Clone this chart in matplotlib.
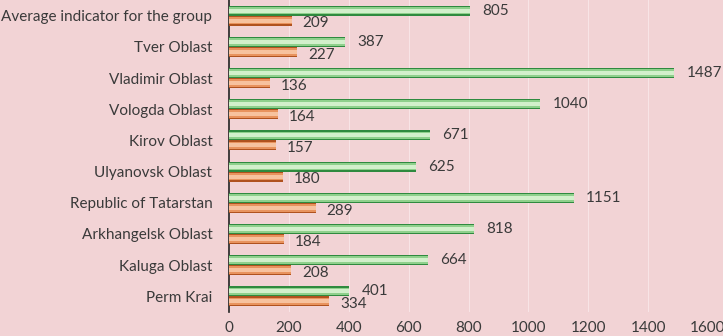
import numpy as np
import matplotlib.pyplot as plt

regions = ['Average indicator for the group', 'Tver Oblast', 'Vladimir Oblast',
           'Vologda Oblast', 'Kirov Oblast', 'Ulyanovsk Oblast',
           'Republic of Tatarstan', 'Arkhangelsk Oblast', 'Kaluga Oblast', 'Perm Krai']
green_vals = [805, 387, 1487, 1040, 671, 625, 1151, 818, 664, 401]
orange_vals = [209, 227, 136, 164, 157, 180, 289, 184, 208, 334]
x_ticks = [0, 200, 400, 600, 800, 1000, 1200, 1400, 1600]

BG = '#F2D3D5'
TXT = '#3A3A3A'
plt.rcParams['font.family'] = ['Lato', 'DejaVu Sans']

fig = plt.figure(figsize=(7.23, 3.36), dpi=100)
fig.patch.set_facecolor(BG)
ax = fig.add_axes([229 / 723, 24 / 336, 479 / 723, 312 / 336])
ax.set_facecolor(BG)

y = np.arange(len(regions))
h = 0.32

def layered_bar(ypos, vals, colors):
    # fake the gradient: dark outer bar, lighter bars stacked inside
    ax.barh(ypos, vals, height=h, color=colors[0], zorder=3)
    ax.barh(ypos, vals, height=h * 0.75, color=colors[1], zorder=4)
    ax.barh(ypos, vals, height=h * 0.4, color=colors[2], zorder=5)

layered_bar(y - h / 2, green_vals, ['#2F8A3F', '#8FD08C', '#D2F0CB'])
layered_bar(y + h / 2, orange_vals, ['#B0521E', '#E8935E', '#F7C29E'])

for i in range(len(regions)):
    ax.annotate(str(green_vals[i]), (green_vals[i], y[i] - h / 2), xytext=(9, 0),
                textcoords='offset points', va='center', ha='left', fontsize=11, color=TXT)
    ax.annotate(str(orange_vals[i]), (orange_vals[i], y[i] + h / 2), xytext=(8, -2),
                textcoords='offset points', va='center', ha='left', fontsize=11, color=TXT)

ax.set_xlim(0, 1600)
ax.set_ylim(len(regions) - 0.5, -0.5)
ax.set_xticks(x_ticks)
ax.set_yticks(y)
ax.set_yticklabels(regions)
ax.tick_params(axis='both', length=0, labelsize=11, labelcolor=TXT)
ax.tick_params(axis='x', pad=6.5)
ax.tick_params(axis='y', pad=12)
ax.grid(axis='x', color='#F8E4E6', linewidth=0.8, zorder=0)
for side in ['top', 'right', 'bottom']:
    ax.spines[side].set_visible(False)
ax.spines['left'].set_color('#222222')
ax.spines['left'].set_linewidth(1.2)

fig.savefig('out.png', dpi=100, facecolor=BG)
